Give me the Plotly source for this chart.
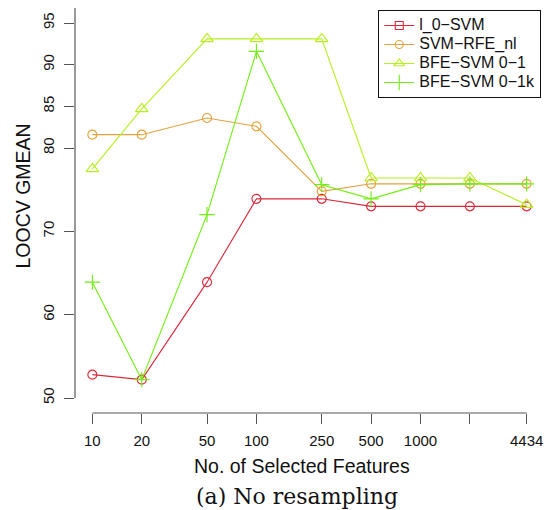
import math
import plotly.graph_objects as go

features = [10, 20, 50, 100, 250, 500, 1000, 2000, 4434]
tick_labels = ["10", "20", "50", "100", "250", "500", "1000", "", "4434"]
y_ticks = [50, 60, 70, 80, 85, 90, 95]

l0_svm = [52.8, 52.2, 63.9, 73.9, 73.9, 73.0, 73.0, 73.0, 73.0]
svm_rfe_nl = [81.6, 81.6, 83.6, 82.6, 74.8, 75.7, 75.7, 75.7, 75.7]
bfe_01 = [77.5, 84.7, 93.1, 93.1, 93.1, 76.4, 76.4, 76.4, 73.2]
bfe_01k = [63.9, 52.2, 72.0, 91.6, 75.6, 73.9, 75.6, 75.7, 75.7]

names = ["l_0\u2212SVM", "SVM\u2212RFE_nl", "BFE\u2212SVM 0\u22121", "BFE\u2212SVM 0\u22121k"]
colors = ["#d8283a", "#e2a23c", "#b6ef1c", "#72ee10"]

FONT = "Liberation Sans, Arial, sans-serif"

fig = go.Figure()

# data traces
series = [l0_svm, svm_rfe_nl, bfe_01, bfe_01k]
symbols = ["circle-open", "circle-open", "triangle-up-open", "cross-thin-open"]
sizes = [9, 9, 11, 11]
for vals, col, sym, sz in zip(series, colors, symbols, sizes):
    fig.add_trace(go.Scatter(
        x=features, y=vals, mode="lines+markers",
        line=dict(color=col, width=1.1),
        marker=dict(symbol=sym, size=sz, color=col, line=dict(color=col, width=1.1)),
        showlegend=False, cliponaxis=False,
    ))

# legend entries
leg_symbols = ["square-open", "circle-open", "triangle-up-open", "cross-thin-open"]
leg_sizes = [8, 8, 9, 11]
for nm, col, sym, sz in zip(names, colors, leg_symbols, leg_sizes):
    fig.add_trace(go.Scatter(
        x=[None], y=[None], mode="lines+markers",
        name='<span style="font-size:16px">' + nm + "</span>",
        line=dict(color=col, width=1.1),
        marker=dict(symbol=sym, size=sz, color=col, line=dict(color=col, width=1.1)),
    ))

lo = math.log10(features[0])
hi = math.log10(features[-1])
span = hi - lo
x_range = [lo - 0.04 * span, hi + 0.04 * span]
y_range = [50 - 0.04 * 45, 95 + 0.04 * 45]

axis_col = "#555555"

fig.update_layout(
    width=546, height=510,
    margin=dict(l=75, r=2, t=8, b=97),
    paper_bgcolor="white", plot_bgcolor="white",
    font=dict(family=FONT, color="#111111"),
    xaxis=dict(
        type="log", range=x_range, tickvals=features, ticktext=tick_labels,
        showgrid=False, zeroline=False, showline=False,
        ticks="outside", ticklen=10, tickwidth=1, tickcolor=axis_col,
        tickfont=dict(size=15, family=FONT, color="#111111"),
        ticklabelstandoff=4,
    ),
    yaxis=dict(
        range=y_range, tickvals=y_ticks, ticktext=[str(v) for v in y_ticks],
        showgrid=False, zeroline=False, showline=False,
        ticks="outside", ticklen=10, tickwidth=1, tickcolor=axis_col,
        tickfont=dict(size=15, family=FONT, color="#111111"),
        tickangle=-90, ticklabelstandoff=4,
    ),
    legend=dict(
        x=0.6466, y=0.995, xanchor="left", yanchor="top",
        bordercolor="#111111", borderwidth=1, bgcolor="white",
        font=dict(size=12, family=FONT, color="#111111"),
        itemwidth=30, tracegroupgap=0,
    ),
    shapes=[
        dict(type="line", xref="paper", yref="y", x0=0, x1=0, y0=50, y1=y_range[1],
             line=dict(color=axis_col, width=1.2)),
        dict(type="line", xref="x", yref="paper", x0=features[0], x1=features[-1], y0=0, y1=0,
             line=dict(color=axis_col, width=1.2)),
    ],
    annotations=[
        dict(text="No. of Selected Features", xref="paper", yref="paper",
             x=(302 - 75) / 469, y=(413 - 466.5) / 405, xanchor="center", yanchor="middle",
             showarrow=False, font=dict(size=19.5, family=FONT, color="#111111")),
        dict(text="LOOCV GMEAN", xref="paper", yref="paper",
             x=(22.5 - 75) / 469, y=(413 - 196) / 405, xanchor="center", yanchor="middle",
             textangle=-90, showarrow=False, font=dict(size=19.5, family=FONT, color="#111111")),
        dict(text="(a) No resampling", xref="paper", yref="paper",
             x=(297 - 75) / 469, y=(413 - 496) / 405, xanchor="center", yanchor="middle",
             showarrow=False, font=dict(size=22, family="DejaVu Serif, serif", color="#111111")),
    ],
)

fig.write_html(
    "out.html",
    config={"displayModeBar": False},
    post_script="document.body.style.margin='0';document.body.style.padding='0';",
)
